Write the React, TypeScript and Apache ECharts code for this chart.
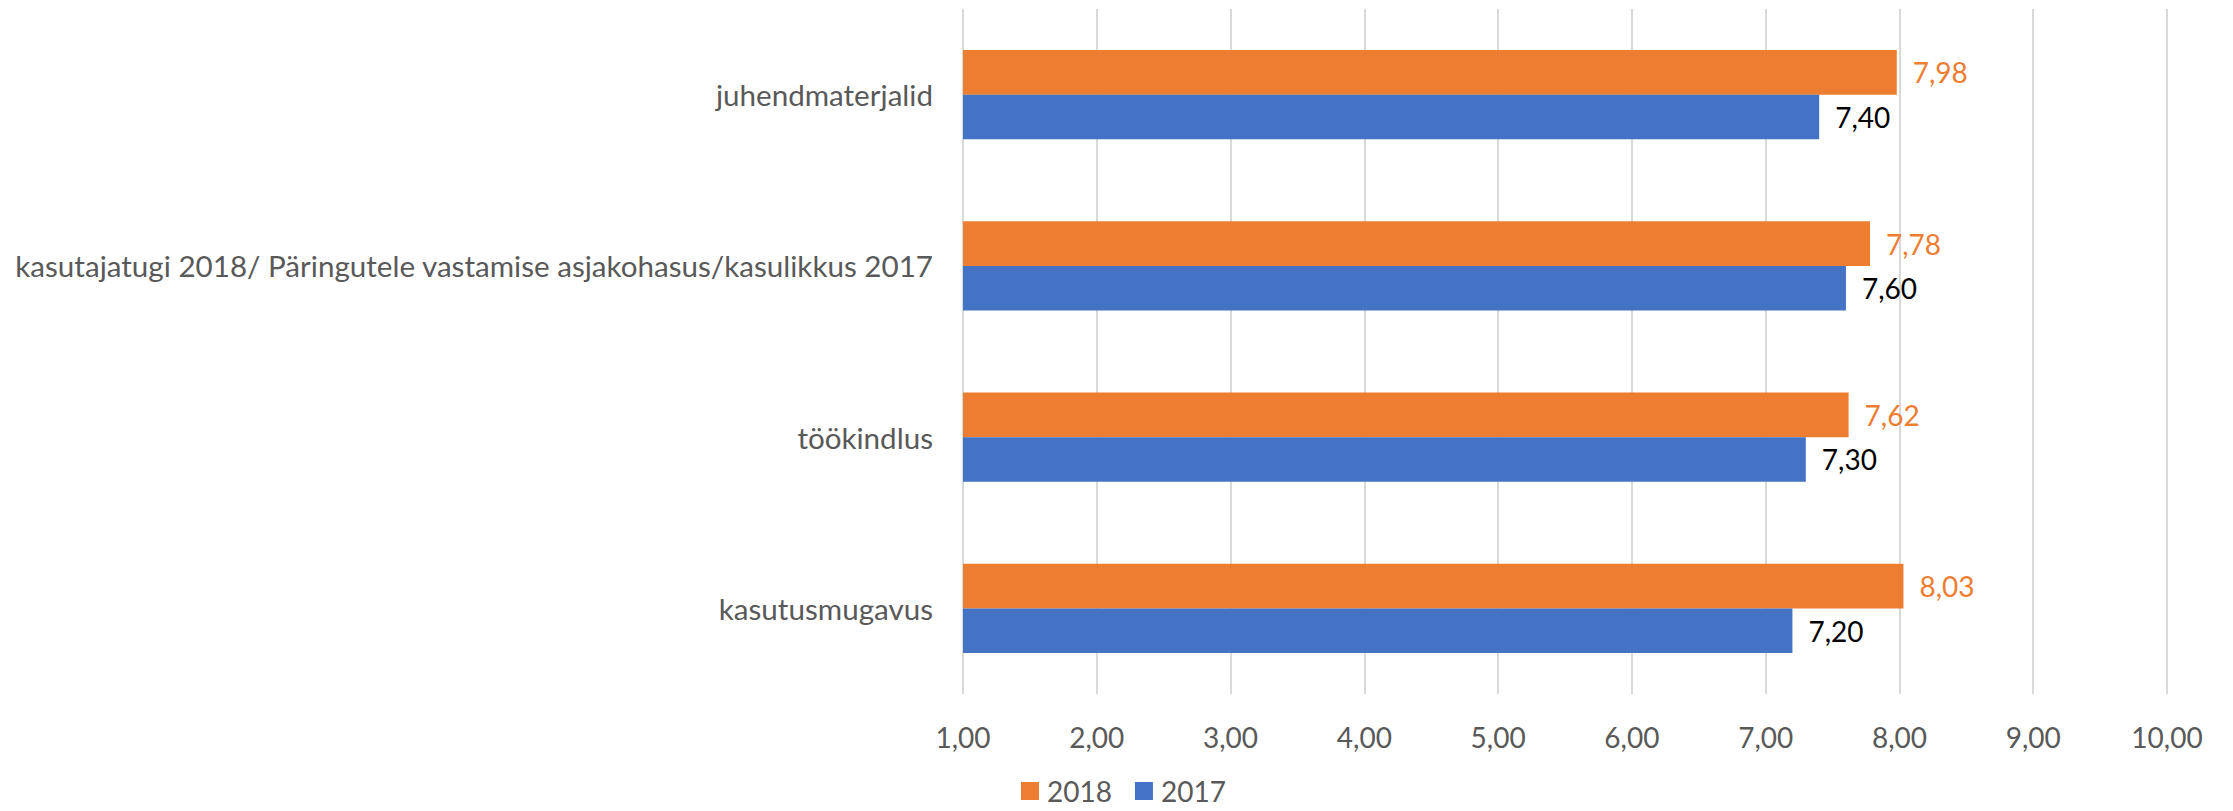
import React, { useEffect, useRef } from "react";
import * as echarts from "echarts";

const categories = [
  "kasutusmugavus",
  "töökindlus",
  "kasutajatugi 2018/ Päringutele vastamise asjakohasus/kasulikkus 2017",
  "juhendmaterjalid",
];
const values2018 = [8.03, 7.62, 7.78, 7.98];
const values2017 = [7.2, 7.3, 7.6, 7.4];
const seriesNames = ["2018", "2017"];
const xMin = 1;
const xMax = 10;
const xInterval = 1;

const FONT = "Lato";
const fmt = (v: number) => v.toFixed(2).replace(".", ",");

export default function App() {
  const ref = useRef<HTMLDivElement>(null);
  useEffect(() => {
    if (!ref.current) return;
    const chart = echarts.init(ref.current, undefined, { renderer: "svg" });
    chart.setOption({
      animation: false,
      backgroundColor: "#ffffff",
      textStyle: { fontFamily: FONT },
      grid: { left: 963, right: 66, top: 9, bottom: 117, containLabel: false },
      legend: {
        data: seriesNames,
        left: 1021,
        top: 777,
        padding: 0,
        itemWidth: 18,
        itemHeight: 18,
        itemGap: 23,
        icon: "rect",
        textStyle: {
          fontFamily: FONT,
          fontSize: 28,
          lineHeight: 28,
          color: "#595959",
          padding: [0, 0, 0, 3],
        },
      },
      xAxis: {
        type: "value",
        min: xMin,
        max: xMax,
        interval: xInterval,
        axisLine: { show: false },
        axisTick: { show: false },
        splitLine: { show: true, lineStyle: { color: "#D9D9D9", width: 2 } },
        axisLabel: {
          formatter: (v: number) => fmt(v),
          fontFamily: FONT,
          fontSize: 28,
          color: "#595959",
          margin: 29,
        },
      },
      yAxis: {
        type: "category",
        data: categories,
        axisLine: { show: false },
        axisTick: { show: false },
        axisLabel: {
          fontFamily: FONT,
          fontSize: 29.6,
          color: "#595959",
          margin: 30,
        },
      },
      series: [
        {
          name: "2018",
          type: "bar",
          data: values2018,
          barGap: "0%",
          barCategoryGap: "48%",
          itemStyle: { color: "#ED7D31" },
          label: {
            show: true,
            position: "right",
            distance: 16,
            formatter: (p: any) => fmt(p.value),
            fontFamily: FONT,
            fontSize: 28,
            color: "#ED7D31",
          },
        },
        {
          name: "2017",
          type: "bar",
          data: values2017,
          barGap: "0%",
          barCategoryGap: "48%",
          itemStyle: { color: "#4472C4" },
          label: {
            show: true,
            position: "right",
            distance: 16,
            formatter: (p: any) => fmt(p.value),
            fontFamily: FONT,
            fontSize: 28,
            color: "#000000",
          },
        },
      ],
    });
    return () => chart.dispose();
  }, []);
  return (
    <div
      ref={ref}
      style={{ position: "fixed", left: 0, top: 0, width: 2233, height: 811 }}
    />
  );
}
